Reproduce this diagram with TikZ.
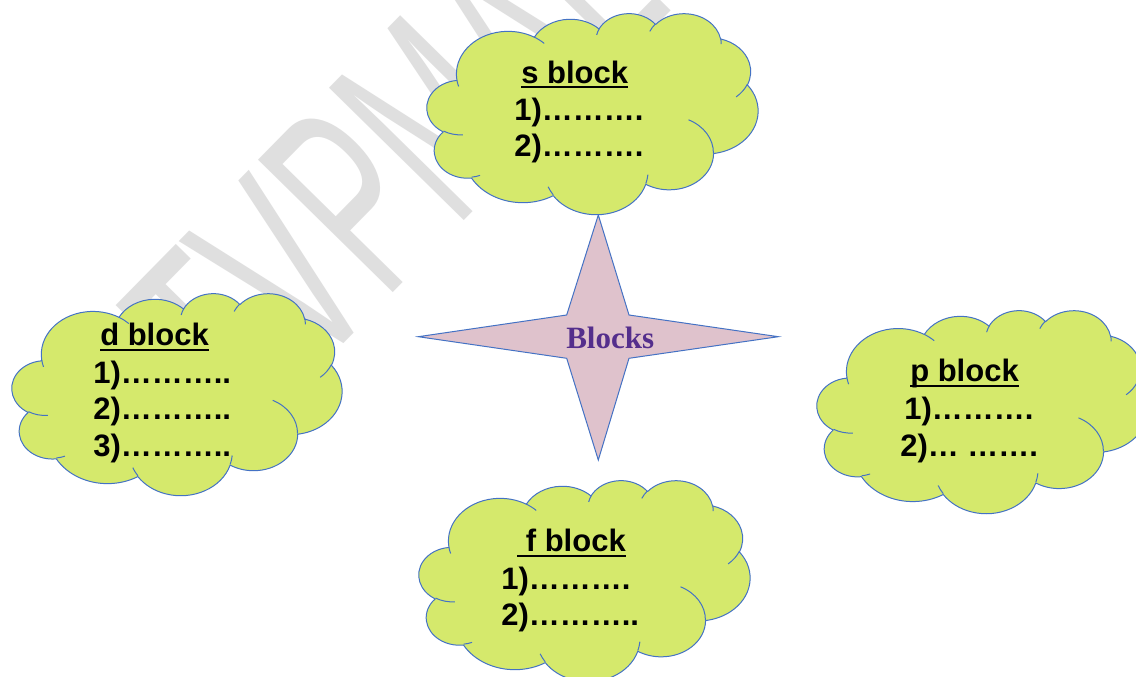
\documentclass[tikz,border=0pt]{standalone}
\usepackage{fontspec}
\setmainfont{Liberation Sans}
\newfontfamily\serifbold{Liberation Serif}
\newfontfamily\wmfont{Liberation Sans}
\definecolor{cloudfill}{RGB}{213,233,108}
\definecolor{edge}{RGB}{68,114,196}
\definecolor{starfill}{RGB}{223,194,204}
\definecolor{blockstxt}{RGB}{84,46,140}
\definecolor{wm}{RGB}{223,223,223}
\newsavebox\ulbox
\newcommand\ultitle[1]{\sbox\ulbox{#1}\rlap{\rule[-3.8pt]{\wd\ulbox}{1.6pt}}\usebox\ulbox}
% arc of the Office cloud: visual start angle, sweep, x radius, y radius
\newcommand\carc[4]{arc[start angle={atan2((#3)*sin(#1),(#4)*cos(#1))},delta angle={mod(atan2((#3)*sin((#1)+(#2)),(#4)*cos((#1)+(#2)))-atan2((#3)*sin(#1),(#4)*cos(#1))-(#2)+540,360)-180+(#2)},x radius=#3,y radius=#4]}
\newcommand\officecloud[4]{%
  \pgfmathsetlengthmacro\cux{(#3)*0.75pt/43.2}%
  \pgfmathsetlengthmacro\cuy{-(#4)*0.75pt/43.2}%
  \begin{scope}[shift={(#1,#2)},x=\cux,y=\cuy]
    \filldraw[cloudshape] (3.900,14.370)
      \carc{-190.4875}{123.7805}{6.753}{9.190}
      \carc{-144.1024}{89.9452}{5.333}{7.267}
      \carc{-145.8079}{99.7230}{4.365}{5.945}
      \carc{-130.9861}{117.2417}{4.857}{6.595}
      \carc{-78.7089}{109.0269}{5.333}{7.273}
      \carc{-46.2673}{130.2690}{6.775}{9.220}
      \carc{0.6250}{114.0333}{5.785}{7.867}
      \carc{22.4516}{115.1726}{6.752}{9.215}
      \carc{66.2426}{75.7110}{7.720}{10.543}
      \carc{-274.9421}{146.7356}{4.360}{5.918}
      \carc{-246.8285}{152.5189}{4.345}{5.945}
      -- cycle;
    \draw[cloudseam] (4.693,26.177) \carc{86.742}{26.4295}{4.345}{5.945}
      (6.928,34.899) \carc{73.6105}{11.4475}{4.360}{5.918}
      (16.478,39.090) \carc{137.6242}{14.0811}{6.752}{9.215}
      (28.827,34.751) \carc{6.4533}{15.9984}{6.752}{9.215}
      (34.129,22.954) \carc{-70.2924}{70.9174}{5.785}{7.867}
      (41.798,15.354) \carc{30.3180}{27.7515}{5.333}{7.273}
      (38.324,5.426) \carc{-13.7443}{14.8589}{4.857}{6.595}
      (29.078,3.952) \carc{-149.1815}{18.1954}{4.857}{6.595}
      (22.141,4.720) \carc{-163.4943}{17.6864}{4.365}{5.945}
      (14.000,5.192) \carc{-66.7070}{12.3194}{6.753}{9.190}
      (4.127,15.789) \carc{157.6544}{11.8582}{6.753}{9.190};
  \end{scope}}
\tikzset{
  cloudshape/.style={fill=cloudfill, draw=edge, line width=0.75pt, line join=round},
  cloudseam/.style={draw=edge, line width=0.75pt},
  starshape/.style={fill=starfill, draw=edge, line width=0.75pt, line join=miter},
  txt/.style={anchor=base west, inner sep=0pt, text=black,
    font=\bfseries\fontsize{23.25pt}{27pt}\selectfont},
  centertxt/.style={anchor=base west, inner sep=0pt, text=blockstxt,
    font=\serifbold\bfseries\fontsize{23.25pt}{27pt}\selectfont},
  watermark/.style={anchor=base west, inner sep=0pt, text=wm,
    font=\wmfont\fontsize{206pt}{206pt}\selectfont}
}
\begin{document}
\begin{tikzpicture}[x=0.75pt,y=-0.75pt]
\useasboundingbox (0,0) rectangle (1136,677);
\fill[white] (0,0) rectangle (1136,677);
% watermark
\begin{scope}
  \clip (0,0) rectangle (1136,677);
  \node[watermark, rotate=45.5, xscale=0.553] (wmark) at (248.6,440.5) {TVPMAL};
\end{scope}
% central star
\draw[starshape] (598.3,215) -- (629,315) -- (778.3,336.7) -- (629,358.3)
  -- (598.3,460) -- (566.7,358.3) -- (418.3,336.7) -- (566.7,315) -- cycle;
\node[centertxt] (blocks) at (566,349) {Blocks};
% clouds
\officecloud{427}{13}{331}{201}
\officecloud{12}{293}{330}{202}
\officecloud{817}{310}{331}{203}
\officecloud{419}{480}{331}{201}
% s block
\node[txt] (s-title) at (521,83.3) {\ultitle{s block}};
\node[txt] (s-l1) at (514,121) {1)……….};
\node[txt] (s-l2) at (514,157) {2)……….};
% d block
\node[txt] (d-title) at (100,345.7) {\ultitle{d block}};
\node[txt] (d-l1) at (93,383.5) {1)………..};
\node[txt] (d-l2) at (93,420) {2)………..};
\node[txt] (d-l3) at (93,456) {3)………..};
% p block
\node[txt] (p-title) at (910,381.7) {\ultitle{p block}};
\node[txt] (p-l1) at (904,420) {1)……….};
\node[txt] (p-l2) at (900,456) {2)… …….};
% f block
\node[txt] (f-title) at (517,551.7) {\ultitle{\ f block}};
\node[txt] (f-l1) at (501,589.3) {1)……….};
\node[txt] (f-l2) at (501,625) {2)………..};
\end{tikzpicture}
\end{document}
